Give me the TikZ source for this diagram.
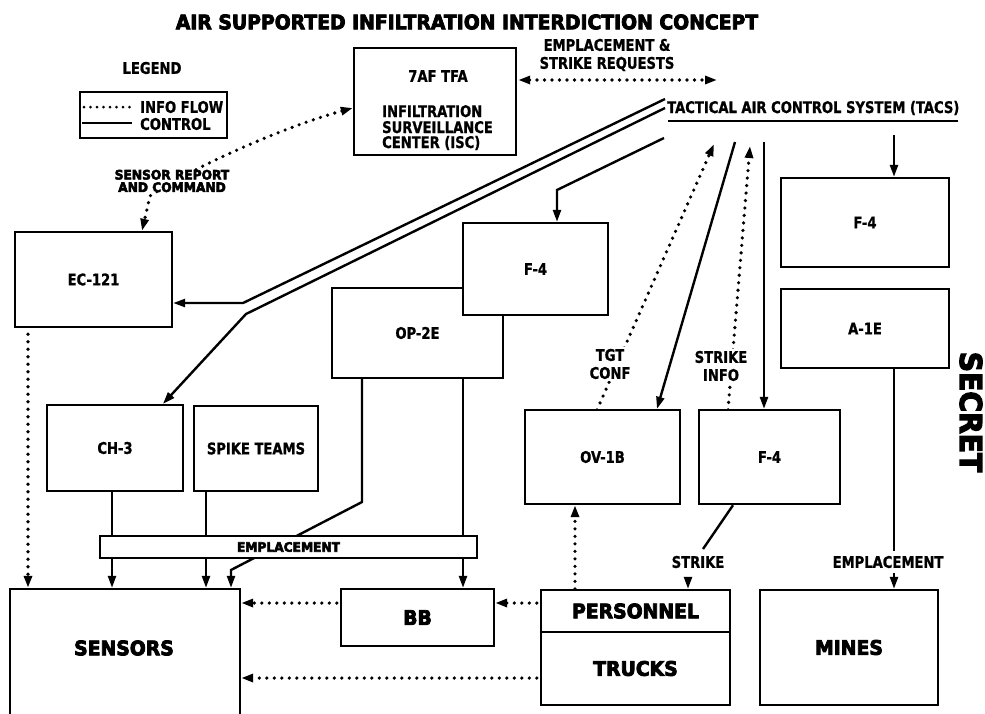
\documentclass[tikz,border=0pt]{standalone}
\usepackage{fontspec}
\newfontfamily\lab{DejaVu Sans}[FakeStretch=0.82,FakeBold=1]
\newfontfamily\hvy{DejaVu Sans}[FakeStretch=0.94,FakeBold=4]
\usetikzlibrary{arrows.meta,calc}
\pgfdeclarelayer{bg}
\pgfsetlayers{bg,main}
\tikzset{
  box/.style={draw, line width=2.4pt, fill=white, inner sep=0pt, font=\lab\bfseries\fontsize{16}{18}\selectfont},
  lbl/.style={inner sep=0pt, font=\lab\bfseries\fontsize{16}{18}\selectfont},
  hv/.style={inner sep=0pt, font=\hvy\bfseries\fontsize{20}{22}\selectfont},
  hvs/.style={inner sep=0pt, font=\hvy\bfseries\fontsize{13}{12.5}\selectfont},
  ctl/.style={line width=2.4pt},
  info/.style={line width=3.6pt, line cap=round, dash pattern=on 0pt off 7.5pt},
  tip/.style={-{Triangle[length=12pt,width=8pt]}},
  tips/.style={{Triangle[length=12pt,width=8pt]}-{Triangle[length=12pt,width=8pt]}}
}
\begin{document}
\begin{tikzpicture}[x=1pt,y=-1pt]
\useasboundingbox (0,0) rectangle (985,713);
\begin{pgfonlayer}{bg}
\fill[white] (0,0) rectangle (985,713);
\end{pgfonlayer}

% title and legend
\node[hv] (title) at (467,22) {AIR SUPPORTED INFILTRATION INTERDICTION CONCEPT};
\node[lbl] (legT) at (152,68) {LEGEND};
\node[box, minimum width=147pt, minimum height=46pt] (leg) at (153.5,115) {};
\coordinate (li1) at (84,107); \coordinate (li2) at (132,107);
\coordinate (lc1) at (82,123); \coordinate (lc2) at (132,123);
\draw[info, line width=3pt, dash pattern=on 0pt off 6.5pt] (li1) -- (li2);
\draw[ctl] (lc1) -- (lc2);
\node[lbl, anchor=west] (legA) at (140,107) {INFO FLOW};
\node[lbl, anchor=west] (legB) at (140,124) {CONTROL};

% ISC
\node[box, minimum width=162pt, minimum height=107pt] (isc) at (435,101.5) {};
\node[lbl] (isct) at (438,76) {7AF TFA};
\node[lbl, anchor=base west] (iscA) at (382,117) {INFILTRATION};
\node[lbl, anchor=base west] (iscB) at (382,133) {SURVEILLANCE};
\node[lbl, anchor=base west] (iscC) at (382,148) {CENTER (ISC)};
\node[lbl, align=center] (req) at (607,55) {EMPLACEMENT \&\\STRIKE REQUESTS};
\coordinate (reqR) at (717,80);

% TACS
\node[lbl, anchor=west] (tacs) at (667,108) {TACTICAL AIR CONTROL SYSTEM (TACS)};
\coordinate (ulA) at (668,121); \coordinate (ulB) at (958,121);
\draw[ctl] (ulA) -- (ulB);
\coordinate (t1) at (665,99);
\coordinate (t2) at (665,108);
\coordinate (t3) at (664,138);
\coordinate (t4) at (894,135);
\coordinate (t5) at (735,142);
\coordinate (t6) at (714,144);
\coordinate (t7) at (750,146);
\coordinate (t8) at (764,142);
\coordinate (b1) at (243,303);
\coordinate (b2) at (246,314);
\coordinate (b3) at (557,190);
\coordinate (b4) at (703,549);
\coordinate (b5) at (362,502);
\coordinate (b6) at (231,570);

% boxes
\node[box, minimum width=157pt, minimum height=95pt] (ec) at (93.5,279.5) {EC-121};
\node[box, minimum width=136pt, minimum height=86pt] (ch3) at (115,448) {CH-3};
\node[box, minimum width=124pt, minimum height=85pt] (spike) at (256,448.5) {SPIKE TEAMS};
\node[box, minimum width=171pt, minimum height=90pt] (op2e) at (417.5,333) {OP-2E};
\node[box, minimum width=145pt, minimum height=92pt] (f4a) at (535.5,269) {F-4};
\node[box, minimum width=168pt, minimum height=89pt] (f4b) at (865,222.5) {F-4};
\node[box, minimum width=168pt, minimum height=79pt] (a1e) at (865,328.5) {A-1E};
\node[box, minimum width=155pt, minimum height=94pt] (ov1b) at (602.5,457) {OV-1B};
\node[box, minimum width=141pt, minimum height=94pt] (f4c) at (769.5,457) {F-4};
\node[box, minimum width=377pt, minimum height=22pt, font=\hvy\bfseries\fontsize{13}{14}\selectfont] (bar) at (288.5,547) {EMPLACEMENT};
\node[box, minimum width=230pt, minimum height=136pt] (sensors) at (125,657) {};
\node[hv] (sensorsT) at (124,648) {SENSORS};
\node[box, minimum width=153pt, minimum height=57pt, font=\hvy\bfseries\fontsize{20}{22}\selectfont] (bb) at (417.5,617.5) {BB};
\node[box, minimum width=189pt, minimum height=42pt, font=\hvy\bfseries\fontsize{20}{22}\selectfont] (pers) at (635.5,611) {PERSONNEL};
\node[box, minimum width=189pt, minimum height=73pt, font=\hvy\bfseries\fontsize{20}{22}\selectfont] (trucks) at (635.5,668.5) {TRUCKS};
\node[box, minimum width=178pt, minimum height=115pt, font=\hvy\bfseries\fontsize{20}{22}\selectfont] (mines) at (849,647.5) {MINES};

% labels over lines
\node[lbl, fill=white, inner ysep=2pt, align=center] (tgt) at (610,364) {TGT\\CONF};
\node[lbl, fill=white, inner ysep=2pt, align=center] (sinfo) at (721,366) {STRIKE\\INFO};
\node[lbl, fill=white, inner ysep=5pt] (strk) at (698,562) {STRIKE};
\node[lbl, fill=white, inner ysep=5pt] (empl) at (888,562) {EMPLACEMENT};
\node[hvs, fill=white, align=center] (srl) at (172,181) {SENSOR REPORT\\AND COMMAND};
\node[inner sep=0pt, rotate=-90, font=\hvy\bfseries\fontsize{30}{30}\selectfont] (secret) at (971,412) {SECRET};

\coordinate (p1) at ([yshift=8pt]pers.west);
\coordinate (p2) at ([yshift=14.5pt]bb.west);
\coordinate (p3) at ([yshift=-9.5pt]trucks.west);
\coordinate (p4) at ([xshift=-65.5pt,yshift=-6pt]ec.south);
\coordinate (c1) at ([xshift=-3pt]ch3.south);
\coordinate (c2) at ([xshift=-50pt]spike.south);
\coordinate (c3) at ([xshift=-55.5pt]op2e.south);
\coordinate (c4) at ([xshift=45.5pt]op2e.south);
\coordinate (c5) at ([xshift=29pt]a1e.south);
\coordinate (c6) at ([xshift=-10pt,yshift=-4pt]strk.south);

\begin{pgfonlayer}{bg}
\draw[info, tips] ([xshift=1pt]isc.east |- reqR) -- (reqR);
\draw[info, tips] ([yshift=-6.5pt]isc.west) .. controls (290,125) and (200,163) .. (150,196) -- ([xshift=48.5pt]ec.north);
\draw[ctl, tip] (t1) -- (b1) -- (ec.east |- b1);
\draw[ctl, tip] (t2) -- (b2) -- ([xshift=48pt]ch3.north);
\draw[ctl, tip] (t3) -- (b3) -- (b3 |- f4a.north);
\draw[ctl, tip] (t4) -- (t4 |- f4b.north);
\draw[ctl, tip] (t5) -- ([xshift=54.5pt]ov1b.north);
\draw[info, tip] ([xshift=-5.5pt,yshift=-1pt]ov1b.north) -- (t6);
\draw[info, tip] ([xshift=-41.5pt,yshift=-1pt]f4c.north) -- (t7);
\draw[ctl, tip] (t8) -- (t8 |- f4c.north);
\draw[ctl] ([xshift=-36.5pt]f4c.south) -- (b4);
\draw[ctl, tip] (c6) -- (c6 |- pers.north);
\draw[info, tip] ([xshift=-60.5pt]pers.north) -- ([xshift=-27.5pt]ov1b.south);
\draw[ctl, tip] (c5) -- (c5 |- mines.north);
\draw[info, tip] ([xshift=-3pt]p1) -- (bb.east |- p1);
\draw[info, tip] ([xshift=-3pt]p2) -- (sensors.east |- p2);
\draw[info, tip] ([xshift=-3pt]p3) -- (sensors.east |- p3);
\draw[info, tip] (p4) -- (p4 |- sensors.north);
\draw[ctl, tip] (c1) -- (c1 |- sensors.north);
\draw[ctl, tip] (c2) -- (c2 |- sensors.north);
\draw[ctl, tip] (c3) -- (b5) -- (b6) -- (b6 |- sensors.north);
\draw[ctl, tip] (c4) -- (c4 |- bb.north);
\end{pgfonlayer}
\end{tikzpicture}
\end{document}
